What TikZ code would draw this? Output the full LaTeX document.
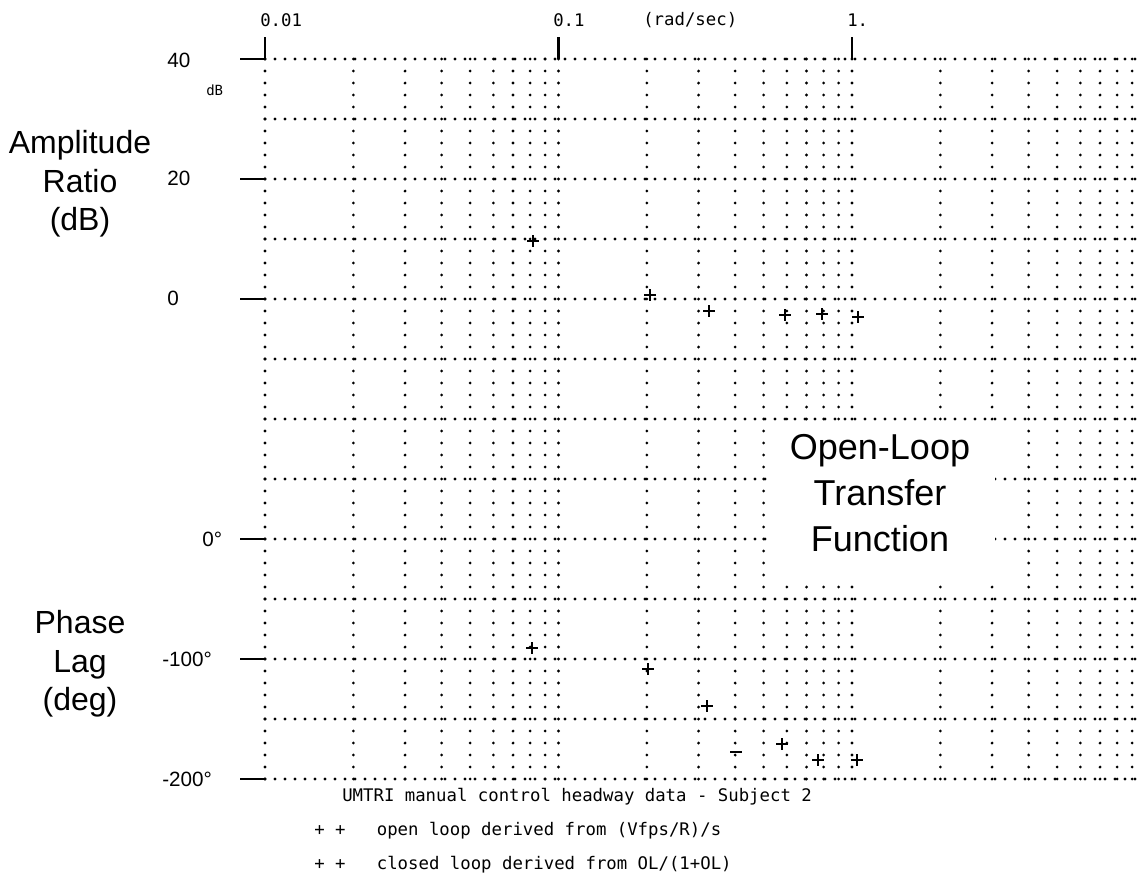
\documentclass[tikz,border=0pt]{standalone}
\usepackage{fontspec}
\setmainfont{Liberation Sans}
\setmonofont{DejaVu Sans Mono}
\usetikzlibrary{positioning}

\begin{document}
\begin{tikzpicture}[x=0.75pt,y=-0.75pt,
  gridrow/.style={line width=2.3pt,line cap=round,dash pattern=on 0pt off 7.5pt},
  gridcol/.style={line width=2.3pt,line cap=round,dash pattern=on 0pt off 9pt},
  tickline/.style={line width=1.7pt},
  datamark/.style={line width=1.6pt},
  axislabel/.style={font=\fontsize{24}{29}\selectfont,align=center},
  bigtitle/.style={font=\fontsize{27}{34.5}\selectfont,align=center,fill=white},
  scalelabel/.style={font=\fontsize{15.5}{18}\selectfont,anchor=west,inner sep=0pt},
  plotter/.style={font=\ttfamily\fontsize{13}{15}\selectfont,anchor=west,inner sep=0pt}]
\useasboundingbox (0,0) rectangle (1143,882);
\fill[white] (0,0) rectangle (1143,882);

% grid: rows every 10 dB / 50 deg, columns on log frequency
\foreach \k in {0,...,12}
  \draw[gridrow] (265,{59+60*\k}) -- (1143,{59+60*\k});
\foreach \d in {0,1,2}
  \foreach \m in {1,...,9}
    \draw[gridcol] ({265+293.5*(\d+log10(\m))},59) -- ++(0,720);
\fill[white] (767,421) rectangle (995,581);

% axis ticks
\draw[tickline] (240,59) -- (265,59) -- (265,37);
\draw[tickline] (558.5,37) -- (558.5,59);
\draw[tickline] (852,37) -- (852,59);
\foreach \k in {2,4,8,10,12}
  \draw[tickline] (240,{59+60*\k}) -- (265,{59+60*\k});

% frequency labels
\node[plotter] (f001) at (260,20) {0.01};
\node[plotter] (f01) at (553,20) {0.1};
\node[plotter] (fUnit) at (643,20) {(rad/sec)};
\node[plotter] (f1) at (847,20) {1.};

% amplitude and phase scales
\node[scalelabel] (db40) at (167,60) {40};
\node[plotter,font=\ttfamily\fontsize{10.5}{13}\selectfont] (dbUnit) at (206,90) {dB};
\node[scalelabel] (db20) at (167,178) {20};
\node[scalelabel] (db0) at (167,298) {0};
\node[scalelabel] (ph0) at (202,539) {0°};
\node[scalelabel] (ph100) at (162,659) {-100°};
\node[scalelabel] (ph200) at (162,779) {-200°};

\node[axislabel] (ampLabel) at (80,184) {Amplitude\\Ratio\\(dB)};
\node[axislabel] (phaseLabel) at (80,664) {Phase\\Lag\\(deg)};
\node[bigtitle] (olTitle) at (880,493) {Open-Loop\\Transfer\\Function};

% measured points
\foreach \px/\py in {533/241,650/295,709/311,785/315,822/314,858/317,
                     532/648,648/669,707/706,782/744,818/760,857/760}
  \draw[datamark] (\px-6,\py) -- (\px+6,\py) (\px,\py-6) -- (\px,\py+6);
\draw[datamark] (730,752) -- (742,752);

% legend
\node[plotter] (dataTitle) at (342,797) {UMTRI manual control headway data - Subject 2};
\node[plotter] (openLeg) at (314,831) {+ +\ \ \ open loop derived from (Vfps/R)/s};
\node[plotter] (closedLeg) at (314,865) {+ +\ \ \ closed loop derived from OL/(1+OL)};
\end{tikzpicture}
\end{document}
